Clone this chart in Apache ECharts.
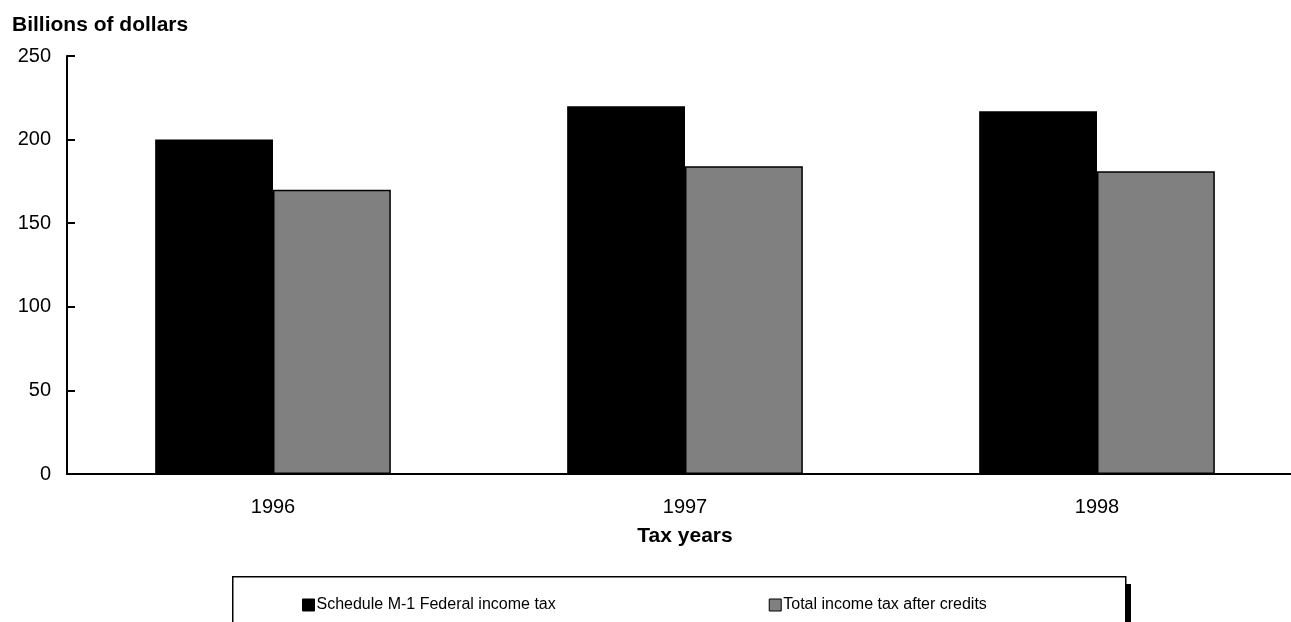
<!DOCTYPE html>
<html><head><meta charset="utf-8">
<script src="https://cdn.jsdelivr.net/npm/echarts@6/dist/echarts.min.js"></script>
<style>html,body{margin:0;padding:0;background:#fff;overflow:hidden}#c{width:1303px;height:622px}</style>
</head><body><div id="c"></div>
<script>
const categories = ['1996', '1997', '1998'];
const scheduleM1 = [200, 220, 217];
const totalAfterCredits = [170, 184, 181];
const yTicks = [0, 50, 100, 150, 200, 250];
const seriesNames = ['Schedule M-1 Federal income tax', 'Total income tax after credits'];

const chart = echarts.init(document.getElementById('c'));
const FONT = 'Liberation Sans, Arial, sans-serif';
chart.setOption({
  animation: false,
  backgroundColor: '#fff',
  textStyle: { fontFamily: FONT, color: '#000' },
  title: {
    text: 'Billions of dollars', left: 7, top: 10,
    textStyle: { fontFamily: FONT, fontSize: 21, fontWeight: 'bold', color: '#000' }
  },
  graphic: [
    { type: 'rect', left: 1125, top: 584, shape: { width: 6, height: 60 }, style: { fill: '#000' }, z: 1 },
    { type: 'rect', left: 232, top: 576, shape: { width: 893, height: 60 }, style: { fill: '#fff', stroke: '#000', lineWidth: 1.5 }, z: 2 }
  ],
  legend: {
    left: 297, top: 592, z: 10,
    itemWidth: 12, itemHeight: 12, itemGap: 213,
    icon: 'rect',
    itemStyle: { borderColor: '#000', borderWidth: 1 },
    textStyle: { fontFamily: FONT, fontSize: 16, color: '#000', padding: [0, 0, 0, -3] },
    data: seriesNames
  },
  grid: { left: 67, right: 0, top: 56, bottom: 148, containLabel: false },
  xAxis: {
    type: 'category', data: categories,
    name: 'Tax years', nameLocation: 'middle', nameGap: 52,
    nameTextStyle: { fontFamily: FONT, fontSize: 21, fontWeight: 'bold', color: '#000' },
    axisLine: { lineStyle: { color: '#000', width: 2 } },
    axisTick: { show: false },
    axisLabel: { fontFamily: FONT, fontSize: 20, color: '#000', margin: 23 },
    splitLine: { show: false }
  },
  yAxis: {
    type: 'value', min: 0, max: 250, interval: 50,
    axisLine: { show: true, lineStyle: { color: '#000', width: 2 } },
    axisTick: { show: true, inside: true, length: 8, lineStyle: { color: '#000', width: 2 } },
    axisLabel: { fontFamily: FONT, fontSize: 20, color: '#000', margin: 16,
      formatter: v => yTicks.includes(v) ? String(v) : '' },
    splitLine: { show: false }
  },
  series: [
    { name: seriesNames[0], type: 'bar', data: scheduleM1, barWidth: '28.6%', barGap: '0%',
      itemStyle: { color: '#000', borderColor: '#000', borderWidth: 1.5 } },
    { name: seriesNames[1], type: 'bar', data: totalAfterCredits, barWidth: '28.6%', barGap: '0%',
      itemStyle: { color: '#808080', borderColor: '#000', borderWidth: 1.5 } }
  ]
});
</script></body></html>
